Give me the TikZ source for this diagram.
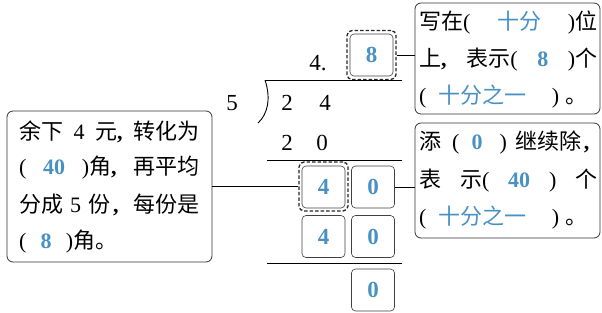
\documentclass[tikz,border=0pt]{standalone}
\usepackage{fontspec}
\setmainfont{Liberation Serif}
\newfontfamily\cjk{Noto Sans CJK SC}
\definecolor{ansblue}{RGB}{72,145,195}
\newcommand\ans[1]{{\color{ansblue}#1}}
\newcommand\ansd[1]{{\color{ansblue}\rmfamily\bfseries #1}}
\newcommand\jline[2]{\hbox to #1{#2}}
\newcommand\lp{{\rmfamily (}}
\newcommand\rp{{\rmfamily )}}
\newcommand\cm{{\rmfamily\bfseries ,}}
\begin{document}
\begin{tikzpicture}[x=1pt,y=-1pt,
  cell/.style={draw=black!75, rounded corners=4pt, minimum width=43pt, minimum height=42pt,
    inner sep=0pt, font=\fontsize{23}{23}\bfseries\selectfont, text=ansblue, line width=0.6pt},
  dbox/.style={draw=black!85, line width=1.3pt, dash pattern=on 3.5pt off 2pt,
    rounded corners=5pt, minimum width=49pt, minimum height=49pt, inner sep=0pt},
  note/.style={draw=black!80, rounded corners=6pt, line width=0.8pt, inner sep=0pt},
  txt/.style={anchor=west, inner sep=0pt, font=\cjk\fontsize{22}{22}\selectfont},
  num/.style={inner sep=0pt, font=\fontsize{23}{23}\selectfont},
  rule/.style={line width=0.9pt}]
\useasboundingbox (0,0) rectangle (602,313);

% notes
\node[note, minimum width=205pt, minimum height=151pt] (nl) at (109.5,186.5) {};
\node[note, minimum width=185pt, minimum height=111pt] (nt) at (507.5,58.5) {};
\node[note, minimum width=185pt, minimum height=115pt] (nm) at (507.5,180.5) {};

% cells
\node[cell] (c8) at (371.5,55) {8};
\node[dbox] (d8) at (371.5,55) {};
\node[cell] (c4a) at (323.5,187) {4};
\node[dbox] (d4) at (323.5,186.5) {};
\node[cell] (c0a) at (373,187) {0};
\node[cell] (c4b) at (323.5,236.5) {4};
\node[cell] (c0b) at (373,236.5) {0};
\node[cell] (c0c) at (373,290) {0};

% division
\node[num] (q4) at (318,63) {4.};
\node[num] (dv) at (232,103) {5};
\node[num] (a2) at (287,103) {2};
\node[num] (a4) at (325,103) {4};
\node[num] (b2) at (287,143) {2};
\node[num] (b0) at (322,143) {0};
\coordinate (r1a) at (265,80);
\coordinate (r1b) at (402,80);
\coordinate (r2a) at (267,160);
\coordinate (r2b) at (402,160);
\coordinate (r3a) at (267,263);
\coordinate (r3b) at (402,263);
\coordinate (brk) at (258,123);
\draw[rule] (r1a) -- (r1b);
\draw[rule] (r2a) -- (r2b);
\draw[rule] (r3a) -- (r3b);
\draw[rule] (r1a) .. controls (271,98) and (268,114) .. (brk);

% connectors
\draw[line width=0.8pt] (nl.east |- d4.west) -- (d4.west);
\draw[line width=0.8pt] (d8.east) -- (d8.east -| nt.west);
\draw[line width=0.8pt] (c0a.east) -- (c0a.east -| nm.west);

% left text
\node[txt] (l1) at (19,132) {\jline{180pt}{余下\hfil{\rmfamily 4}\hfil 元\cm\hfil 转化为}};
\node[txt] (l2) at (19,168) {\jline{180pt}{\lp\hfil\ansd{40}\hfil\rp 角\cm\hfil 再平均}};
\node[txt] (l3) at (19,205) {\jline{180pt}{分成\hspace{7pt}{\rmfamily 5}\hspace{7pt}份\hspace{3pt}\cm\hfil 每份是}};
\node[txt] (l4) at (19,242) {\jline{98pt}{\lp\hfil\ansd{8}\hfil\rp 角。}};

% top right text
\node[txt] (t1) at (419,23) {\jline{178pt}{写在\lp\hfil\ans{十分}\hfil\rp 位}};
\node[txt] (t2) at (419,60) {\jline{178pt}{上\cm\hfil 表示\lp\hfil\ansd{8}\hfil\rp 个}};
\node[txt] (t3) at (419,97) {\jline{168pt}{\lp\hspace{12pt}\ans{十分之一}\hfil\rp\hspace{6pt}。}};

% middle right text
\node[txt] (m1) at (419,143) {\jline{178pt}{添\hspace{11pt}\lp\hspace{12pt}\ansd{0}\hspace{17pt}\rp\hspace{9pt}继续除\hspace{2pt}\cm\hfil}};
\node[txt] (m2) at (419,181) {\jline{178pt}{表\hfil 示\lp\hfil\ansd{40}\hfil\rp\hfil 个}};
\node[txt] (m3) at (419,218) {\jline{168pt}{\lp\hspace{12pt}\ans{十分之一}\hfil\rp\hspace{6pt}。}};
\end{tikzpicture}
\end{document}
